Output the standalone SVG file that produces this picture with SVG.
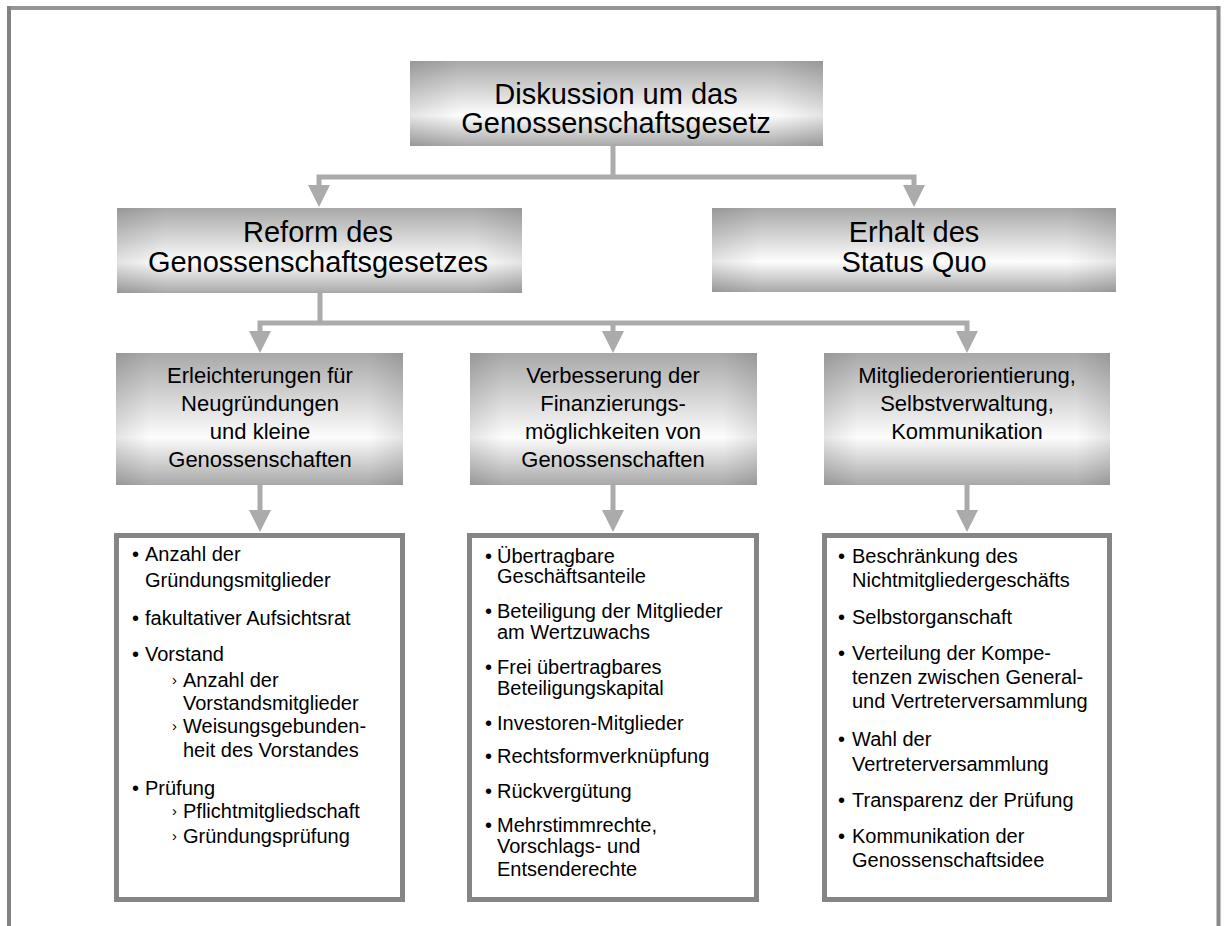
<svg xmlns="http://www.w3.org/2000/svg" width="1226" height="926" viewBox="0 0 1226 926">
<defs>
<linearGradient id="gv" x1="0" y1="0" x2="0" y2="1">
<stop offset="0" stop-color="#a8a8a8"/>
<stop offset="0.64" stop-color="#fdfdfd"/>
<stop offset="1" stop-color="#a8a8a8"/>
</linearGradient>
<linearGradient id="gh" x1="0" y1="0" x2="1" y2="0">
<stop offset="0" stop-color="#000" stop-opacity="0.10"/>
<stop offset="0.12" stop-color="#000" stop-opacity="0"/>
<stop offset="0.88" stop-color="#000" stop-opacity="0"/>
<stop offset="1" stop-color="#000" stop-opacity="0.10"/>
</linearGradient>
<marker id="ah" markerUnits="userSpaceOnUse" markerWidth="22" markerHeight="22" viewBox="0 0 22 22" refX="0" refY="11" orient="auto">
<path d="M0,0 L22,11 L0,22 z" fill="#ababab"/>
</marker>
</defs>
<style>
.box{fill:url(#gv);}
.shade{fill:url(#gh);}
.t{font-family:"Liberation Sans",Arial,sans-serif;fill:#000;}
.big{font-size:29px;text-anchor:middle;}
.mid{font-size:22px;text-anchor:middle;}
.li{font-size:20px;}
.sub{font-size:15px;}
.conn{fill:none;stroke:#ababab;stroke-width:5;}
.lb{fill:#fff;stroke:#858585;stroke-width:5;}
</style>
<rect width="1226" height="926" fill="#fff"/>
<g id="frame">
<line x1="7" y1="8" x2="1220" y2="8" stroke="#959595" stroke-width="4"/>
<line x1="9" y1="6" x2="9" y2="926" stroke="#828282" stroke-width="4"/>
<line x1="1218.5" y1="6" x2="1218.5" y2="926" stroke="#8a8a8a" stroke-width="4"/>
</g>
<g id="connectors">
<path class="conn" d="M613,146 V177"/>
<path class="conn" d="M613,177 H319 V185" marker-end="url(#ah)"/>
<path class="conn" d="M613,177 H914 V185" marker-end="url(#ah)"/>
<path class="conn" d="M320,293 V323"/>
<path class="conn" d="M320,323 H260 V331" marker-end="url(#ah)"/>
<path class="conn" d="M320,323 H967 V331" marker-end="url(#ah)"/>
<path class="conn" d="M613,323 V331" marker-end="url(#ah)"/>
<path class="conn" d="M260,485 V510" marker-end="url(#ah)"/>
<path class="conn" d="M613,485 V510" marker-end="url(#ah)"/>
<path class="conn" d="M967,485 V510" marker-end="url(#ah)"/>
</g>
<g id="n-diskussion">
<rect class="box" x="410" y="61" width="413" height="85"/>
<rect class="shade" x="410" y="61" width="413" height="85"/>
<text class="t big" x="616" y="104">Diskussion um das</text>
<text class="t big" x="616" y="133">Genossenschaftsgesetz</text>
</g>
<g id="n-reform">
<rect class="box" x="117" y="208" width="405" height="85"/>
<rect class="shade" x="117" y="208" width="405" height="85"/>
<text class="t big" x="318" y="242">Reform des</text>
<text class="t big" x="318" y="272">Genossenschaftsgesetzes</text>
</g>
<g id="n-erhalt">
<rect class="box" x="712" y="208" width="404" height="84"/>
<rect class="shade" x="712" y="208" width="404" height="84"/>
<text class="t big" x="914" y="242">Erhalt des</text>
<text class="t big" x="914" y="272">Status Quo</text>
</g>
<g id="n-erleichterungen">
<rect class="box" x="116" y="353" width="287" height="132"/>
<rect class="shade" x="116" y="353" width="287" height="132"/>
<text class="t mid" x="260" y="383">Erleichterungen für</text>
<text class="t mid" x="260" y="411">Neugründungen</text>
<text class="t mid" x="260" y="439">und kleine</text>
<text class="t mid" x="260" y="467">Genossenschaften</text>
</g>
<g id="n-verbesserung">
<rect class="box" x="470" y="353" width="287" height="132"/>
<rect class="shade" x="470" y="353" width="287" height="132"/>
<text class="t mid" x="613" y="383">Verbesserung der</text>
<text class="t mid" x="613" y="411">Finanzierungs-</text>
<text class="t mid" x="613" y="439">möglichkeiten von</text>
<text class="t mid" x="613" y="467">Genossenschaften</text>
</g>
<g id="n-mitglieder">
<rect class="box" x="824" y="353" width="286" height="132"/>
<rect class="shade" x="824" y="353" width="286" height="132"/>
<text class="t mid" x="967" y="383">Mitgliederorientierung,</text>
<text class="t mid" x="967" y="411">Selbstverwaltung,</text>
<text class="t mid" x="967" y="439">Kommunikation</text>
</g>
<g id="l-erleichterungen">
<rect class="lb" x="116.5" y="535.5" width="286" height="364"/>
<g class="t li">
<text x="132" y="561">•</text><text x="145" y="561">Anzahl der</text>
<text x="145" y="587">Gründungsmitglieder</text>
<text x="132" y="625">•</text><text x="145" y="625">fakultativer Aufsichtsrat</text>
<text x="132" y="661">•</text><text x="145" y="661">Vorstand</text>
<text x="183" y="687">Anzahl der</text>
<text x="183" y="710">Vorstandsmitglieder</text>
<text x="183" y="733">Weisungsgebunden-</text>
<text x="183" y="757">heit des Vorstandes</text>
<text x="132" y="795">•</text><text x="145" y="795">Prüfung</text>
<text x="183" y="818">Pflichtmitgliedschaft</text>
<text x="183" y="843">Gründungsprüfung</text>
</g>
<g class="t sub">
<text x="172" y="685">›</text>
<text x="172" y="731">›</text>
<text x="172" y="816">›</text>
<text x="172" y="841">›</text>
</g>
</g>
<g id="l-verbesserung">
<rect class="lb" x="469.5" y="535.5" width="287" height="364"/>
<g class="t li">
<text x="485" y="563">•</text><text x="497" y="563">Übertragbare</text>
<text x="497" y="583">Geschäftsanteile</text>
<text x="485" y="618">•</text><text x="497" y="618">Beteiligung der Mitglieder</text>
<text x="497" y="639">am Wertzuwachs</text>
<text x="485" y="674">•</text><text x="497" y="674">Frei übertragbares</text>
<text x="497" y="695">Beteiligungskapital</text>
<text x="485" y="730">•</text><text x="497" y="730">Investoren-Mitglieder</text>
<text x="485" y="763">•</text><text x="497" y="763">Rechtsformverknüpfung</text>
<text x="485" y="798">•</text><text x="497" y="798">Rückvergütung</text>
<text x="485" y="832">•</text><text x="497" y="832">Mehrstimmrechte,</text>
<text x="497" y="853">Vorschlags- und</text>
<text x="497" y="876">Entsenderechte</text>
</g>
</g>
<g id="l-mitglieder">
<rect class="lb" x="824.5" y="535.5" width="285" height="364"/>
<g class="t li">
<text x="838" y="563">•</text><text x="852" y="563">Beschränkung des</text>
<text x="852" y="587">Nichtmitgliedergeschäfts</text>
<text x="838" y="624">•</text><text x="852" y="624">Selbstorganschaft</text>
<text x="838" y="660">•</text><text x="852" y="660">Verteilung der Kompe-</text>
<text x="852" y="684">tenzen zwischen General-</text>
<text x="852" y="708">und Vertreterversammlung</text>
<text x="838" y="746">•</text><text x="852" y="746">Wahl der</text>
<text x="852" y="771">Vertreterversammlung</text>
<text x="838" y="807">•</text><text x="852" y="807">Transparenz der Prüfung</text>
<text x="838" y="843">•</text><text x="852" y="843">Kommunikation der</text>
<text x="852" y="867">Genossenschaftsidee</text>
</g>
</g>
</svg>
